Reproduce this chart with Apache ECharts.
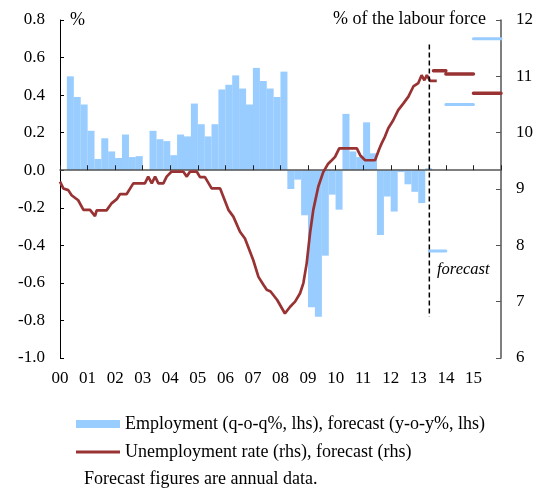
<!DOCTYPE html>
<html>
<head>
<meta charset="utf-8">
<script src="https://cdn.jsdelivr.net/npm/echarts@6/dist/echarts.min.js"></script>
<style>
  html, body { margin: 0; padding: 0; background: #fff; }
  #chart { width: 539px; height: 488px; }
</style>
</head>
<body>
<div id="chart"></div>
<script>
// quarterly employment change (q-o-q %, lhs), 2000Q1 .. 2013Q2, null = no bar
const employment = [
  null, 0.50, 0.39, 0.35,
  0.21, 0.06, 0.17, 0.10,
  0.065, 0.19, 0.07, 0.075,
  null, 0.21, 0.165, 0.155,
  0.08, 0.19, 0.18, 0.355,
  0.245, 0.18, 0.245, 0.43,
  0.455, 0.505, 0.435, 0.35,
  0.545, 0.475, 0.435, 0.39,
  0.525, -0.10, -0.05, -0.24,
  -0.73, -0.78, -0.455, -0.13,
  -0.21, 0.30, 0.10, 0.07,
  0.255, 0.09, -0.345, -0.14,
  -0.22, -0.01, -0.075, -0.115,
  -0.175, 0.01
];

// unemployment rate (rhs), read at these dates (decimal years)
const unempDates = [
  2000.00, 2000.12, 2000.30, 2000.42, 2000.66, 2000.85, 2001.09, 2001.27, 2001.33, 2001.69,
  2001.88, 2002.06, 2002.18, 2002.42, 2002.66, 2003.08, 2003.20, 2003.33, 2003.45, 2003.57,
  2003.75, 2003.87, 2004.05, 2004.47, 2004.60, 2004.72, 2004.96, 2005.08, 2005.26, 2005.50,
  2005.81, 2006.11, 2006.29, 2006.53, 2006.71, 2007.01, 2007.20, 2007.38, 2007.50, 2007.64,
  2007.88, 2008.16, 2008.35, 2008.53, 2008.71, 2008.83, 2008.95, 2009.07, 2009.19, 2009.37,
  2009.55, 2009.73, 2009.86, 2009.98, 2010.13, 2010.77, 2010.89, 2011.07, 2011.43, 2011.59,
  2011.67, 2011.79, 2011.91, 2012.09, 2012.27, 2012.46, 2012.64, 2012.82, 2013.00, 2013.12,
  2013.22, 2013.31, 2013.43, 2013.67
];
const unempRate = [
  9.13, 9.01, 8.98, 8.89, 8.80, 8.63, 8.63, 8.52, 8.62, 8.62,
  8.75, 8.82, 8.91, 8.91, 9.10, 9.10, 9.22, 9.10, 9.22, 9.10,
  9.10, 9.22, 9.31, 9.31, 9.22, 9.31, 9.31, 9.21, 9.21, 9.01,
  9.01, 8.63, 8.51, 8.24, 8.12, 7.74, 7.44, 7.30, 7.21, 7.18,
  7.03, 6.79, 6.91, 7.00, 7.15, 7.33, 7.68, 8.21, 8.63, 9.04,
  9.30, 9.45, 9.51, 9.57, 9.72, 9.72, 9.60, 9.51, 9.51, 9.72,
  9.81, 9.93, 10.08, 10.22, 10.40, 10.52, 10.64, 10.82, 10.88, 11.02,
  10.93, 11.02, 10.92, 10.92
];

// annual forecasts: [from, to, value]
const employmentForecast = [
  [2013.4, 2014, -0.43],
  [2014, 2015, 0.35],
  [2015, 2016, 0.70]
];
const unempForecast = [
  [2013.55, 2014, 11.10],
  [2014, 2015, 11.04],
  [2015, 2016, 10.70]
];

const forecastStart = 2013.4;
const dashTop = 0.67;
const dashBottom = -0.78;

const barName = 'Employment (q-o-q%, lhs), forecast (y-o-y%, lhs)';
const lineName = 'Unemployment rate (rhs), forecast (rhs)';
const FONT = '"Liberation Serif", "Times New Roman", serif';
const BLUE = '#99CCFF';
const RED = '#993333';

const barData = employment.map((v, i) => [2000 + Math.floor(i / 4) + ((i % 4) + 0.5) / 4, v === null ? '-' : v]);
const lineData = unempDates.map((d, i) => [d, unempRate[i]]);

function segments(list) {
  const out = [];
  list.forEach(s => {
    out.push([s[0], s[2]], [s[1], s[2]], [s[1], '-']);
  });
  return out;
}

const chartInstance = echarts.init(document.getElementById('chart'));

const option = {
  animation: false,
  grid: { left: 60, right: 38, top: 20, bottom: 130 },
  legend: {
    orient: 'vertical',
    left: 76,
    top: 415,
    padding: 0,
    itemWidth: 44,
    itemHeight: 8,
    itemGap: 10,
    symbolKeepAspect: true,
    textStyle: { fontSize: 18, fontFamily: FONT, color: '#000' },
    data: [
      { name: barName, icon: 'rect' },
      { name: lineName, icon: 'path://M0,0 H44 V3 H0 Z', itemStyle: { color: RED } }
    ]
  },
  xAxis: [
    {
      type: 'value',
      position: 'bottom',
      min: 2000,
      max: 2016,
      interval: 1,
      axisLine: { show: false, onZero: false },
      axisTick: { show: false },
      splitLine: { show: false },
      axisLabel: {
        margin: 12,
        fontSize: 17,
        fontFamily: FONT,
        color: '#000',
        formatter: v => (v < 2016 ? String(v % 100).padStart(2, '0') : '')
      }
    },
    {
      type: 'value',
      position: 'bottom',
      min: 2000,
      max: 2016,
      interval: 1,
      z: 3,
      axisLine: { show: true, onZero: true, lineStyle: { color: '#555', width: 1.5 } },
      axisTick: { show: true, inside: true, length: 5, lineStyle: { color: '#222' } },
      splitLine: { show: false },
      axisLabel: { show: false }
    }
  ],
  yAxis: [
    {
      type: 'value',
      min: -1,
      max: 0.8,
      interval: 0.2,
      axisLine: { show: true, lineStyle: { color: '#000', width: 1 } },
      axisTick: { show: true, inside: true, length: 4, lineStyle: { color: '#000' } },
      splitLine: { show: false },
      axisLabel: {
        margin: 15,
        fontSize: 17,
        fontFamily: FONT,
        color: '#000',
        formatter: v => (Math.round(v * 10) / 10).toFixed(1)
      }
    },
    {
      type: 'value',
      position: 'right',
      min: 6,
      max: 12,
      interval: 1,
      axisLine: { show: true, lineStyle: { color: '#555', width: 1.5 } },
      axisTick: { show: true, inside: true, length: 5, lineStyle: { color: '#555' } },
      splitLine: { show: false },
      axisLabel: { margin: 15, fontSize: 17, fontFamily: FONT, color: '#000' }
    }
  ],
  series: [
    {
      name: barName,
      type: 'bar',
      xAxisIndex: 1,
      yAxisIndex: 0,
      barWidth: 7,
      itemStyle: { color: BLUE },
      data: barData
    },
    {
      name: 'employmentForecast',
      type: 'line',
      xAxisIndex: 1,
      yAxisIndex: 0,
      symbol: 'none',
      lineStyle: { color: BLUE, width: 3, cap: 'round' },
      data: segments(employmentForecast)
    },
    {
      name: lineName,
      type: 'line',
      xAxisIndex: 1,
      yAxisIndex: 1,
      symbol: 'none',
      z: 4,
      itemStyle: { color: RED },
      lineStyle: { color: RED, width: 2.7 },
      data: lineData
    },
    {
      name: 'unempForecast',
      type: 'line',
      xAxisIndex: 1,
      yAxisIndex: 1,
      symbol: 'none',
      z: 4,
      lineStyle: { color: RED, width: 3.5, cap: 'round' },
      data: segments(unempForecast)
    },
    {
      name: 'forecastLine',
      type: 'line',
      xAxisIndex: 1,
      yAxisIndex: 0,
      symbol: 'none',
      z: 5,
      lineStyle: { color: '#000', width: 1.5, type: [5, 3] },
      data: [[forecastStart, dashTop], [forecastStart, dashBottom]]
    }
  ],
  graphic: [
    {
      type: 'text', x: 70, y: 20,
      style: { text: '%', font: '18px ' + FONT, fill: '#000', align: 'left', verticalAlign: 'middle' }
    },
    {
      type: 'text', x: 486, y: 19,
      style: { text: '% of the labour force', font: '18px ' + FONT, fill: '#000', align: 'right', verticalAlign: 'middle' }
    },
    {
      type: 'text', x: 437, y: 270,
      style: { text: 'forecast', font: 'italic 16.5px ' + FONT, fill: '#000', align: 'left', verticalAlign: 'middle' }
    },
    {
      type: 'text', x: 84, y: 479,
      style: { text: 'Forecast figures are annual data.', font: '18px ' + FONT, fill: '#000', align: 'left', verticalAlign: 'middle' }
    }
  ]
};

chartInstance.setOption(option);
</script>
</body>
</html>
